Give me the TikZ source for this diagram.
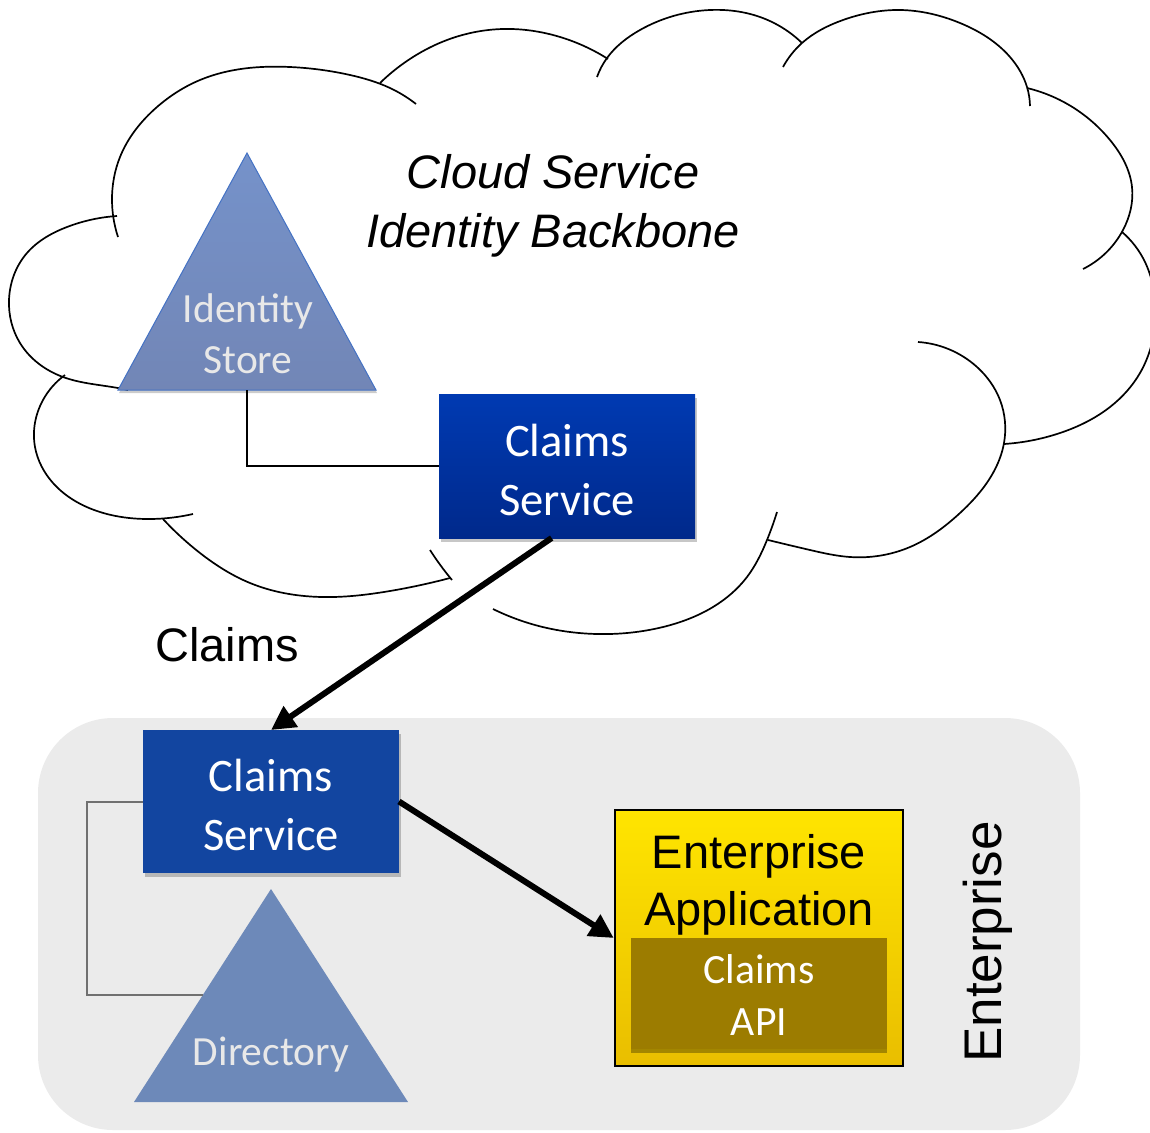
\documentclass[tikz,border=0pt]{standalone}
\usepackage{fontspec}
\setmainfont{Liberation Sans}
\newfontfamily\calibri{Carlito}
\usetikzlibrary{arrows.meta,shadows,calc,hobby}

\definecolor{idtop}{HTML}{7592CA}
\definecolor{idbot}{HTML}{7286B6}
\definecolor{idedge}{HTML}{4472C4}
\definecolor{dirfill}{HTML}{6D89B9}
\definecolor{cstop}{HTML}{003AB2}
\definecolor{csbot}{HTML}{00298B}
\definecolor{csflat}{HTML}{1245A0}
\definecolor{entbg}{HTML}{EBEBEB}
\definecolor{apptop}{HTML}{FFE500}
\definecolor{appbot}{HTML}{E9BE00}
\definecolor{apifill}{HTML}{9C7C00}
\definecolor{paletext}{HTML}{E8E8E8}
\definecolor{greylink}{HTML}{707070}

\begin{document}
\begin{tikzpicture}[x=1pt,y=-1pt,
  lobe/.style={line width=1.7pt,use Hobby shortcut},
  boxshadow/.style={drop shadow={shadow xshift=2pt,shadow yshift=-4pt,opacity=0.22,fill=black}},
  csbox/.style={inner sep=0pt,outer sep=0pt,minimum width=256pt,boxshadow},
  appbox/.style={draw=black,line width=2.5pt,inner sep=0pt,top color=apptop,bottom color=appbot,
    minimum width=288pt,minimum height=256pt},
  apibox/.style={fill=apifill,inner sep=0pt,minimum width=256pt,minimum height=111pt,
    drop shadow={shadow xshift=0pt,shadow yshift=-4pt,opacity=0.3,fill=black}},
  entzone/.style={fill=entbg,rounded corners=75pt,inner sep=0pt,minimum width=1042pt,minimum height=412pt},
  boxtext/.style={anchor=base,align=center,text=white,font=\calibri\fontsize{46.6}{59}\selectfont},
  tritext/.style={anchor=base,align=center,text=paletext,font=\calibri\fontsize{41.5}{51}\selectfont},
  apitext/.style={anchor=base,align=center,text=white,font=\calibri\fontsize{41.7}{52}\selectfont},
  bigtext/.style={anchor=base,align=center,font=\fontsize{47}{57}\selectfont},
  link/.style={line width=2pt},
  greyline/.style={line width=2pt,draw=greylink},
  bigarrow/.style={line width=6pt,-{Triangle[length=24pt,width=24pt]}}
]
\useasboundingbox (0,0) rectangle (1150,1132);

% cloud outline, lobe by lobe (multi-line node texts sit on their last baseline)
\draw[lobe] (117,216) .. (67,227) .. (27,253) .. (9,300) .. (20,343) .. (63,377) .. (118,388) .. (128,390);
\draw[lobe] (118,237) .. (112,200) .. (120,157) .. (157,107) .. (200,80) .. (290,67) .. (350,75) .. (390,88) .. (416,104);
\draw[lobe] (380,83) .. (413,57) .. (447,40) .. (503,29) .. (553,35) .. (608,59);
\draw[lobe] (597,77) .. (607,58) .. (640,30) .. (710,10) .. (760,17) .. (802,43);
\draw[lobe] (783,67) .. (802,43) .. (843,20) .. (900,10) .. (960,23) .. (1010,57) .. (1027,87) .. (1030,106);
\draw[lobe] (1027,88) .. (1077,110) .. (1110,140) .. (1132,187) .. (1123,230) .. (1083,269);
\draw[lobe] (1122,232) .. (1145,262) .. (1155,300) .. (1150,350) .. (1140,373) .. (1110,407) .. (1060,433) .. (1004,444);
\draw[lobe] (918,342) .. (977,367) .. (1000,400) .. (1004,443) .. (993,473) .. (960,513) .. (910,547) .. (850,557) .. (810,550) .. (768,540);
\draw[lobe] (777,512) .. (767,540) .. (747,577) .. (713,607) .. (663,627) .. (597,634) .. (547,628) .. (493,609);
\draw[lobe] (430,550) .. (441,566) .. (452,580);
\draw[lobe] (163,519) .. (200,553) .. (250,583) .. (333,597) .. (390,591) .. (450,578);
\draw[lobe] (65,375) .. (43,400) .. (35,447) .. (53,483) .. (100,512) .. (150,519) .. (193,514);

\node[font=\itshape\fontsize{47}{59}\selectfont,anchor=base,align=center] (cloudtitle) at (553,247)
  {Cloud Service\\Identity Backbone};

% identity store
\path[top color=idtop,bottom color=idbot,draw=idedge,line width=1pt,
  drop shadow={shadow xshift=1pt,shadow yshift=-3pt,opacity=0.2,fill=black}]
  (247,153) -- (376,390) -- (118,390) -- cycle;
\coordinate (idbase) at (247,390);
\node[tritext] (idtext) at (248,373) {Identity\\Store};

% cloud claims service
\node[csbox,minimum height=144pt,top color=cstop,bottom color=csbot] (cs1) at (567,466) {};
\node[boxtext] (cs1text) at (567,515) {Claims\\Service};
\draw[link] (idbase) |- (cs1.west);

% enterprise zone
\node[entzone] (ent) at (559,924) {};
\node[rotate=90,anchor=base,font=\fontsize{53}{64}\selectfont] (entlabel) at (1001,942) {Enterprise};

% enterprise claims service
\node[csbox,minimum height=143pt,fill=csflat] (cs2) at (271,801.5) {};
\node[boxtext] (cs2text) at (271,850) {Claims\\Service};

% directory
\fill[dirfill] (271,889) -- (408,1102) -- (134,1102) -- cycle;
\coordinate (dirleft) at (203,995);
\node[tritext] (dirtext) at (271,1065) {Directory};
\draw[greyline] (cs2.west) -- ++(-56,0) |- (dirleft);

% enterprise application with claims api
\node[appbox] (app) at (759,938) {};
\node[bigtext] (apptext) at (759,925) {Enterprise\\Application};
\node[apibox] (api) at (759,993.5) {};
\node[apitext] (apitext) at (759,1035) {Claims\\API};

% claims flow
\coordinate (cs1out) at ($(cs1.south west)!0.44!(cs1.south east)$);
\draw[bigarrow] (cs1out) -- (cs2.north);
\draw[bigarrow] (cs2.east) -- (app.west);
\node[bigtext] (claimslabel) at (227,661) {Claims};
\end{tikzpicture}
\end{document}
